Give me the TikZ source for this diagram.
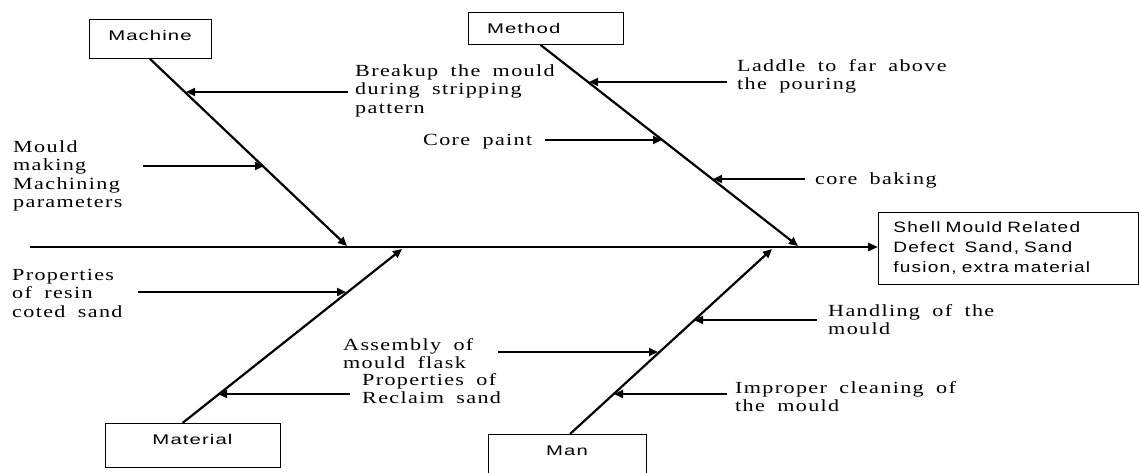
\documentclass[tikz,border=0pt]{standalone}
\usepackage{fontspec}
\usepackage{tikz}
\usetikzlibrary{arrows.meta}
\newfontfamily\lblfont{Liberation Serif}[FakeStretch=1.3, LetterSpace=8, WordSpace=1.8]
\newfontfamily\boxfont{Liberation Sans}[FakeStretch=1.45, LetterSpace=8]
\newfontfamily\fxfont{Liberation Sans}[FakeStretch=1.27, LetterSpace=8, WordSpace=1.8]
\tikzset{
  catbox/.style={draw=black, line width=0.9pt, anchor=north, inner ysep=10pt, text height=11pt, font=\boxfont\fontsize{14}{16}\selectfont},
  fxbox/.style={draw=black, line width=0.9pt, anchor=west, align=left, inner xsep=15pt, text width=230pt, minimum height=72pt, font=\fxfont\fontsize{15}{20}\selectfont},
  bone/.style={line width=2.2pt, -{Triangle[length=9pt,width=8pt]}},
  spine/.style={line width=2.8pt, -{Triangle[length=10pt,width=8pt]}},
  cause/.style={line width=1.8pt, -{Triangle[length=9pt,width=8pt]}},
  lbl/.style={anchor=north west, inner sep=0pt, align=left, font=\lblfont\fontsize{17}{18.5}\selectfont},
  fishbone/.style={x=1pt, y=-1pt}
}
\begin{document}
\begin{tikzpicture}[fishbone]
  \path[fill=white, use as bounding box] (0,0) rectangle (1139,472);

  % Category boxes
  \node[catbox, minimum width=122pt, text depth=8pt] (machine) at (150,19) {Machine};
  \node[catbox, text width=117pt, inner xsep=19pt, align=left, text depth=1pt] (method) at (545.5,12) {Method};
  \node[catbox, minimum width=175pt, text depth=13pt] (material) at (192.5,423) {Material};
  \node[catbox, minimum width=158pt, text depth=30pt] (man) at (567,434) {Man};

  % Effect box at the head
  \node[fxbox] (effect) at (878,248) {Shell Mould Related\\Defect~ Sand, Sand\\fusion, extra material};

  % Spine
  \coordinate (sp0) at (30,247);
  \coordinate (sp1) at (400,247);
  \draw[line width=1.6pt] (sp0) -- (sp1);
  \draw[spine] (sp1) -- (effect.west |- sp1);

  % Bones
  \coordinate (mcEnd) at (347,246);
  \coordinate (mtEnd) at (798,246);
  \coordinate (maEnd) at (402,249);
  \coordinate (mnEnd) at (772,249);
  \draw[bone] (machine.south) -- (mcEnd);
  \draw[bone] ([xshift=-5pt]method.south) -- (mtEnd);
  \draw[bone] ([xshift=-10pt]material.north) -- (maEnd);
  \draw[bone] ([xshift=3pt]man.north) -- (mnEnd);

  % Cause arrows: tail / tip / height
  \foreach \cn/\sx/\ex/\yy in {brk/348/186/92, mmk/143/264/166,
      lad/727/589/82, cpt/545/662/140, cbk/805/713/179,
      res/138/346/292, rcl/350/218/394,
      hnd/817/694/320, asm/498/658/352, imp/727/614/394}{
    \coordinate (\cn s) at (\sx,\yy);
    \coordinate (\cn e) at (\ex,\yy);
    \draw[cause] (\cn s) -- (\cn e);
  }

  % Cause labels
  \node[lbl] (brkT) at (355,64) {Breakup the mould\\during stripping\\pattern};
  \node[lbl] (mmkT) at (13,140) {Mould\\making\\Machining\\parameters};
  \node[lbl] (ladT) at (737,59) {Laddle to far above\\the pouring};
  \node[lbl] (cptT) at (423,134) {Core paint};
  \node[lbl] (cbkT) at (815,172) {core baking};
  \node[lbl] (resT) at (12,269) {Properties\\of resin\\coted sand};
  \node[lbl] (asmT) at (343,338) {Assembly of\\mould flask};
  \node[lbl] (rclT) at (362,373) {Properties of\\Reclaim sand};
  \node[lbl] (hndT) at (828,304) {Handling of the\\mould};
  \node[lbl] (impT) at (735,381) {Improper cleaning of\\the mould};
\end{tikzpicture}
\end{document}
